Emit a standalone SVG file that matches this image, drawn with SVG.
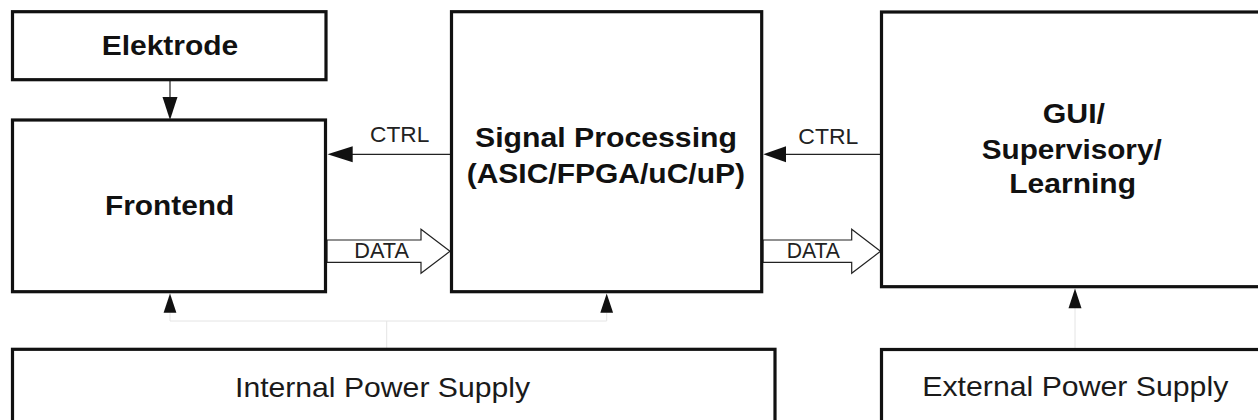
<svg xmlns="http://www.w3.org/2000/svg" width="1258" height="420" viewBox="0 0 1258 420">
<style>
.box{fill:#fff;stroke:#111;stroke-width:3.2}
.t{font-family:"Liberation Sans",Arial,sans-serif;font-weight:bold;font-size:27px;fill:#111}
.p{font-family:"Liberation Sans",Arial,sans-serif;font-size:28px;fill:#1a1a1a}
.l{font-family:"Liberation Sans",Arial,sans-serif;font-size:21.5px;fill:#222}
.w{fill:none;stroke:#222;stroke-width:1.2}
.f{fill:none;stroke:#e4e4e4;stroke-width:1}
.h{fill:#111;stroke:none}
.ho{fill:#fff;stroke:#222;stroke-width:1.2;stroke-linejoin:miter}
</style>
<rect width="1258" height="420" fill="#fff"/>
<g id="connectors">
  <!-- Elektrode to Frontend -->
  <line class="w" x1="170" y1="81" x2="170" y2="100"/>
  <polygon class="h" points="162.5,97 177.5,97 170,120"/>
  <!-- CTRL left -->
  <line class="w" x1="450" y1="154.3" x2="345" y2="154.3"/>
  <polygon class="h" points="352.7,146.3 352.7,162.3 327.5,154.3"/>
  <text class="l" x="370" y="141.7" textLength="59.3" lengthAdjust="spacingAndGlyphs">CTRL</text>
  <!-- DATA left -->
  <polygon class="ho" points="327,240 421,240 421,229.3 450,251.3 421,273.3 421,262.3 327,262.3"/>
  <text class="l" x="354.3" y="258.3" textLength="54.7" lengthAdjust="spacingAndGlyphs">DATA</text>
  <!-- CTRL right -->
  <line class="w" x1="880" y1="154.3" x2="780" y2="154.3"/>
  <polygon class="h" points="786,146.3 786,162.3 763.3,154.3"/>
  <text class="l" x="798.3" y="144" textLength="60" lengthAdjust="spacingAndGlyphs">CTRL</text>
  <!-- DATA right -->
  <polygon class="ho" points="763,240 851.7,240 851.7,229.3 880.5,251.3 851.7,273.3 851.7,262.3 763,262.3"/>
  <text class="l" x="786.7" y="258.3" textLength="53.3" lengthAdjust="spacingAndGlyphs">DATA</text>
  <!-- Internal power feed -->
  <polyline class="f" points="170,312.7 170,321 606.7,321 606.7,312.7"/>
  <line class="f" x1="386.7" y1="321" x2="386.7" y2="348"/>
  <polygon class="h" points="163.6,312.7 176.4,312.7 170,293.5"/>
  <polygon class="h" points="600.3,312.7 613.1,312.7 606.7,293.5"/>
  <!-- External power feed -->
  <line class="f" x1="1075" y1="308" x2="1075" y2="348"/>
  <polygon class="h" points="1068.5,308.3 1081.5,308.3 1075,288.5"/>
</g>
<g id="elektrode">
  <rect class="box" x="12.5" y="11.7" width="313.5" height="68"/>
  <text class="t" x="101.7" y="55" textLength="136.6" lengthAdjust="spacingAndGlyphs">Elektrode</text>
</g>
<g id="frontend">
  <rect class="box" x="12.5" y="120" width="313" height="171.7"/>
  <text class="t" x="105" y="215" textLength="129.3" lengthAdjust="spacingAndGlyphs">Frontend</text>
</g>
<g id="signal-processing">
  <rect class="box" x="451.5" y="11.7" width="310.2" height="280"/>
  <text class="t" x="475" y="146.7" textLength="262" lengthAdjust="spacingAndGlyphs">Signal Processing</text>
  <text class="t" x="466.7" y="182.7" textLength="278.3" lengthAdjust="spacingAndGlyphs">(ASIC/FPGA/uC/uP)</text>
</g>
<g id="gui">
  <rect class="box" x="881.5" y="12" width="390" height="274.7"/>
  <text class="t" x="1042.7" y="123.3" textLength="62.3" lengthAdjust="spacingAndGlyphs">GUI/</text>
  <text class="t" x="981.7" y="159" textLength="180" lengthAdjust="spacingAndGlyphs">Supervisory/</text>
  <text class="t" x="1009.3" y="193.3" textLength="126.7" lengthAdjust="spacingAndGlyphs">Learning</text>
</g>
<g id="internal-power-supply">
  <rect class="box" x="12.5" y="349.3" width="762.5" height="80"/>
  <text class="p" x="235" y="396.7" textLength="295" lengthAdjust="spacingAndGlyphs">Internal Power Supply</text>
</g>
<g id="external-power-supply">
  <rect class="box" x="881.5" y="349.5" width="390" height="80"/>
  <text class="p" x="922.3" y="396" textLength="306" lengthAdjust="spacingAndGlyphs">External Power Supply</text>
</g>
</svg>
